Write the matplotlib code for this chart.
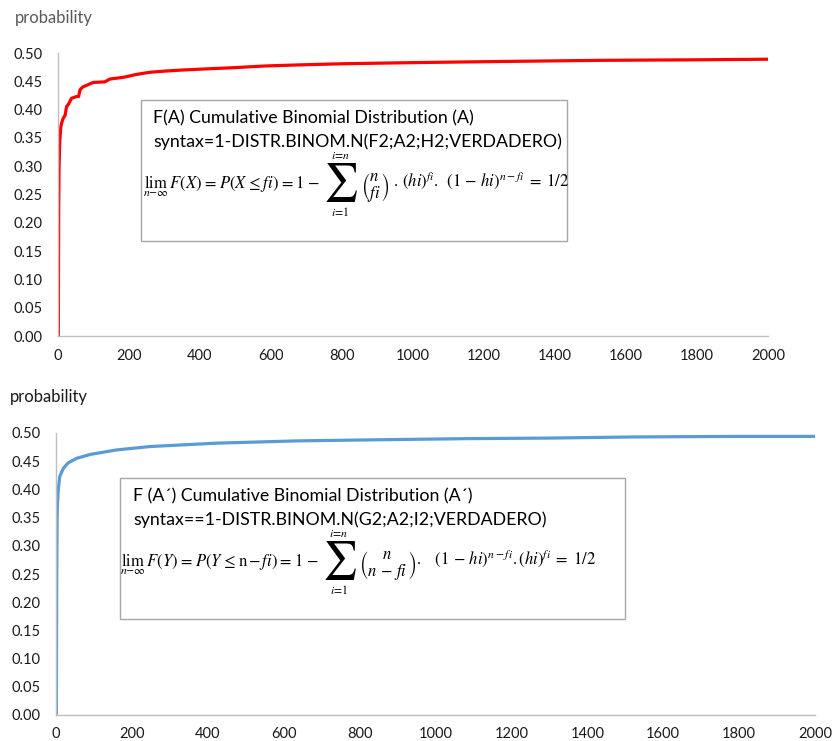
import matplotlib
matplotlib.use("Agg")
import matplotlib.pyplot as plt
from matplotlib.patches import Rectangle

plt.rcParams['font.family'] = ['Lato', 'DejaVu Sans']
plt.rcParams['mathtext.fontset'] = 'stix'

# cumulative binomial probability, event A
n_a = [1, 2, 3, 5, 8, 12, 15, 20, 24, 30, 38, 52, 58, 62, 70, 81, 99, 132, 146,
       184, 220, 259, 300, 353, 420, 494, 580, 681, 800, 1000, 1245, 1527, 1800, 2000]
p_a = [0.0, 0.22, 0.30, 0.345, 0.37, 0.38, 0.385, 0.39, 0.405, 0.41, 0.42, 0.423,
       0.423, 0.435, 0.44, 0.443, 0.448, 0.449, 0.454, 0.457, 0.462, 0.466, 0.468,
       0.470, 0.472, 0.474, 0.477, 0.479, 0.481, 0.483, 0.485, 0.487, 0.488, 0.489]

# cumulative binomial probability, complement A'
n_b = [1, 2, 3, 4, 6, 10, 19, 32, 54, 90, 160, 248, 423, 634, 850, 1083, 1300,
       1521, 1800, 2000]
p_b = [0.0, 0.25, 0.346, 0.375, 0.40, 0.423, 0.437, 0.447, 0.455, 0.462, 0.470,
       0.476, 0.482, 0.486, 0.488, 0.490, 0.491, 0.493, 0.494, 0.494]

y_ticks = [0.0, 0.05, 0.10, 0.15, 0.20, 0.25, 0.30, 0.35, 0.40, 0.45, 0.50]
x_ticks = [0, 200, 400, 600, 800, 1000, 1200, 1400, 1600, 1800, 2000]

title_a = "F(A) Cumulative Binomial Distribution (A)"
syntax_a = "syntax=1-DISTR.BINOM.N(F2;A2;H2;VERDADERO)"
lhs_a = r"$\lim_{n-\infty}\, F(X) \;=\; P(X \;\leq\; f\!\,i) \;=\; 1 \;-\; $"
rhs_a = (r"$\genfrac{(}{)}{0}{0}{n}{f\!\,i}\ .\,(hi)^{f\!\,i}.\ \,(1 \,-\, hi)^{n-f\!\,i}"
         r" \;=\; 1/2$")

title_b = "F (A\u00b4) Cumulative Binomial Distribution (A\u00b4)"
syntax_b = "syntax==1-DISTR.BINOM.N(G2;A2;I2;VERDADERO)"
lhs_b = (r"$\lim_{n-\infty}\, F(Y) \;=\; P(Y \;\leq\; \mathrm{n} \,-\, f\!\,i)"
         r" \;=\; 1 \;-\; $")
rhs_b = (r"$\genfrac{(}{)}{0}{0}{n}{n \,-\, f\!\,i}.\ \ \ (1 \,-\, hi)^{n-f\!\,i}"
         r".(hi)^{f\!\,i} \;=\; 1/2$")

sum_top = r"$i\!=\!n$"
sum_bot = r"$i\!=\!1$"

W, H = 840, 741
fig = plt.figure(figsize=(W / 100, H / 100), dpi=100)
renderer = fig.canvas.get_renderer()


def px(x, y):
    return x / W, 1 - y / H


def style_axes(ax):
    ax.set_xlim(0, 2000)
    ax.set_ylim(0, 0.5)
    ax.set_yticks(y_ticks)
    ax.set_yticklabels(["%.2f" % v for v in y_ticks])
    ax.set_xticks(x_ticks)
    for s in ["top", "right"]:
        ax.spines[s].set_visible(False)
    for s in ["left", "bottom"]:
        ax.spines[s].set_color("#bfbfbf")
        ax.spines[s].set_linewidth(1.0)
    ax.tick_params(length=0, labelsize=10.5, colors="#1a1a1a")
    ax.tick_params(axis="y", pad=11)
    ax.tick_params(axis="x", pad=9)


def width_of(t):
    return t.get_window_extent(renderer).width


def formula(x, base, lhs, rhs, size):
    # left part, big summation sign with its limits, right part
    t = fig.text(*px(x, base), lhs, fontsize=size, va="baseline", zorder=6)
    x += width_of(t) + 3
    s = fig.text(*px(x, base - 5), r"$\sum$", fontsize=size * 2.3,
                 va="center", zorder=6)
    bb = s.get_window_extent(renderer)
    cx = x + bb.width / 2
    fig.text(*px(cx, H - bb.y1 - 1), sum_top, fontsize=size * 0.7,
             ha="center", va="bottom", zorder=6)
    fig.text(*px(cx, H - bb.y0 + 1), sum_bot, fontsize=size * 0.7,
             ha="center", va="top", zorder=6)
    x += bb.width + 3
    fig.text(*px(x, base), rhs, fontsize=size, va="baseline", zorder=6)


def text_box(x0, y0, x1, y1, title, syntax, tx):
    fig.patches.append(Rectangle(px(x0, y1), (x1 - x0) / W, (y1 - y0) / H,
                                 transform=fig.transFigure, facecolor="white",
                                 edgecolor="#a6a6a6", lw=1.0, zorder=5))
    fig.text(*px(tx, y0 + 18), title, fontsize=12.8, va="center", zorder=6)
    fig.text(*px(tx, y0 + 42), syntax, fontsize=12.8, va="center", zorder=6)


# top panel
ax1 = fig.add_axes([58 / W, 1 - 336 / H, (768 - 58) / W, (336 - 53) / H])
ax1.plot(n_a, p_a, color="#ff0000", lw=2.3, solid_joinstyle="round")
style_axes(ax1)
fig.text(*px(15, 18), "probability", fontsize=12, color="#595959", va="center")
text_box(141, 100, 567, 241, title_a, syntax_a, 153)
formula(143, 188, lhs_a, rhs_a, 12)

# bottom panel
ax2 = fig.add_axes([56 / W, 1 - 715 / H, (815 - 56) / W, (715 - 433) / H])
ax2.plot(n_b, p_b, color="#5b9bd5", lw=2.3, solid_joinstyle="round")
style_axes(ax2)
fig.text(*px(10, 397), "probability", fontsize=12, color="#1a1a1a", va="center")
text_box(120, 478, 625, 619, title_b, syntax_b, 133)
formula(120, 566, lhs_b, rhs_b, 12)

fig.savefig("out.png", dpi=100)
